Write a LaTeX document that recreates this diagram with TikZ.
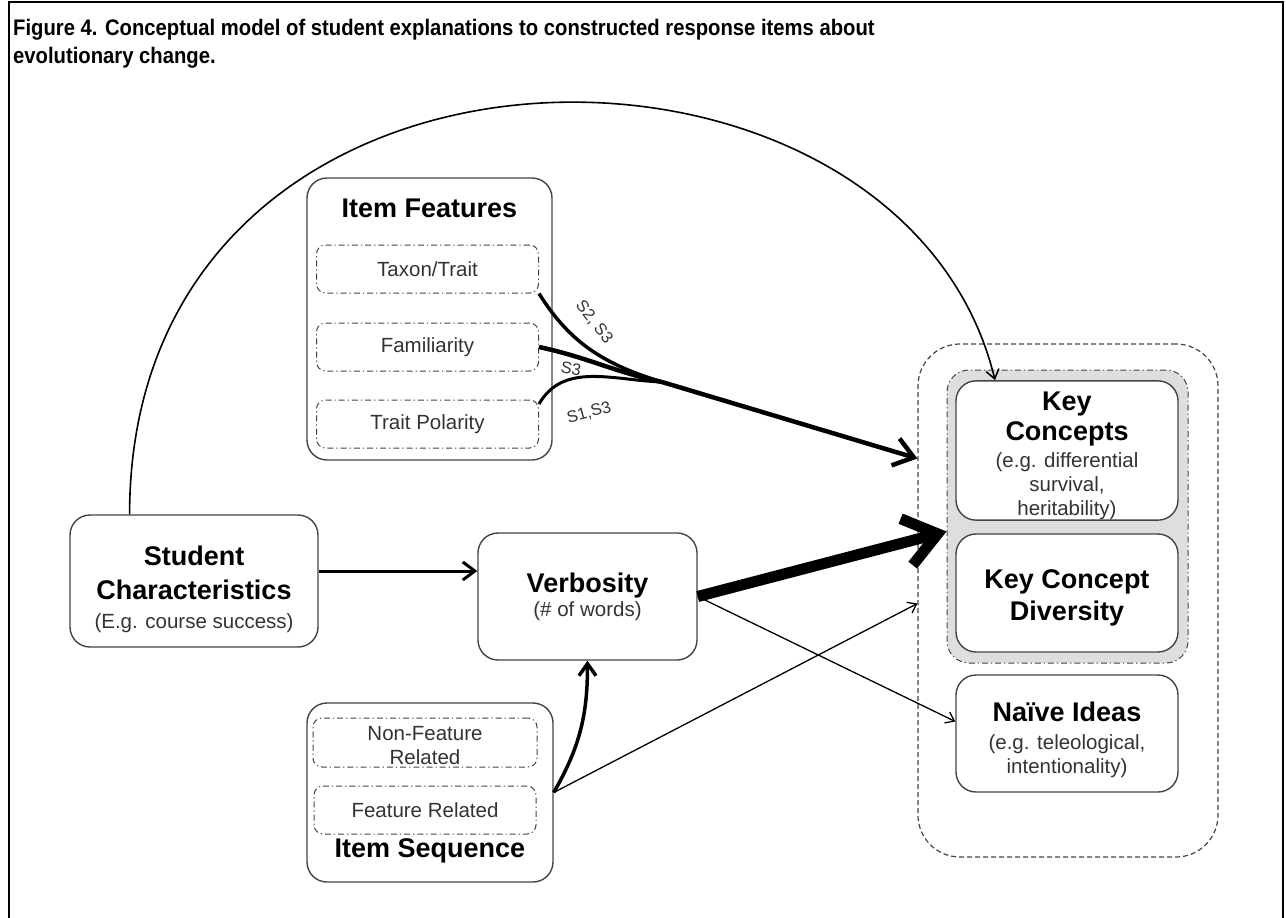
\documentclass[tikz,border=0pt]{standalone}
\usepackage{fontspec}
\setmainfont{Liberation Sans}
\newfontfamily\titlefam[FakeStretch=0.9]{Liberation Sans}
\usetikzlibrary{arrows.meta,positioning}
\newcommand\titlefont{\titlefam\fontsize{22.5}{28}\selectfont\bfseries}
\newcommand\hdfont{\fontsize{27}{30}\selectfont\bfseries}
\newcommand\txfont{\fontsize{20.5}{24}\selectfont}
\newcommand\lblfont{\fontsize{16.5}{18}\selectfont}
\newcommand\subline[1]{{\txfont\mdseries\color{txtgray}#1}}
\newcommand\toppad[1]{\rule{0pt}{#1}}
\definecolor{boxline}{HTML}{444444}
\definecolor{txtgray}{HTML}{333333}
\definecolor{grpfill}{HTML}{DEDEDE}
\tikzset{
  box/.style={draw=boxline, line width=1.4pt, rounded corners=20pt, fill=white,
    align=center, inner sep=0pt, font=\hdfont},
  subbox/.style={draw=boxline, line width=1pt,
    dash pattern=on 6pt off 3pt on 1.2pt off 3pt, rounded corners=9pt,
    minimum width=222pt, minimum height=48pt, inner sep=0pt,
    align=center, text=txtgray, font=\txfont},
  outerbox/.style={draw=boxline, line width=1.2pt, dash pattern=on 5pt off 3pt,
    rounded corners=42pt},
  groupbox/.style={draw=boxline, fill=grpfill, line width=1pt,
    dash pattern=on 6pt off 3pt on 1.2pt off 3pt, rounded corners=22pt},
  arcline/.style={line width=1.6pt, -{Straight Barb[length=9pt,width=13pt]}},
  midarrow/.style={line width=3pt, -{Straight Barb[length=12pt,width=18pt]}},
  heavyarrow/.style={line width=11pt, -{Straight Barb[length=32pt,width=48pt]}},
  featarrow/.style={line width=4.5pt, -{Straight Barb[length=19pt,width=28pt]}},
  thinarrow/.style={line width=1.3pt, -{Straight Barb[length=8pt,width=12pt]}},
  lbl/.style={font=\lblfont, text=txtgray, inner sep=0pt}
}

\begin{document}
\begin{tikzpicture}[x=1pt, y=1pt]
  \useasboundingbox (0,0) rectangle (1286,-918);
  \draw[line width=2.5pt] (9,-918) -- (9,-2) -- (1283,-2) -- (1283,-918);
  \node[anchor=north west, inner sep=0pt, align=left, font=\titlefont] (title) at (13,-19)
    {Figure 4. Conceptual model of student explanations to constructed response items about\\evolutionary change.};

  % outcomes
  \node[outerbox, minimum width=300pt, minimum height=513pt] (res) at (1068,-600.5) {};
  \node[groupbox, minimum width=241pt, minimum height=293pt] (grp) at (1067.5,-516.5) {};
  \node[box, minimum width=222pt, minimum height=135pt] (kc) at (1067,-450.5)
    {\toppad{30pt}Key\\Concepts\\[-3pt]\subline{(e.g. differential}\\[-6pt]\subline{survival,}\\[-6pt]\subline{heritability)}};
  \node[box, minimum width=222pt, minimum height=118pt] (kcd) at (1067,-593)
    {\toppad{28pt}Key Concept\\[2pt]Diversity};
  \node[box, minimum width=222pt, minimum height=117pt] (naive) at (1067,-733.5)
    {\toppad{32pt}Naïve Ideas\\[-2pt]\subline{(e.g. teleological,}\\[-6pt]\subline{intentionality)}};

  % predictors
  \node[box, minimum width=248pt, minimum height=132pt] (stud) at (194,-581)
    {\toppad{37pt}Student\\[4pt]Characteristics\\[-1pt]\subline{(E.g. course success)}};
  \node[box, minimum width=219pt, minimum height=127pt] (verb) at (587.5,-596.5)
    {Verbosity\\[-6pt]\subline{(\# of words)}};

  \node[box, minimum width=245pt, minimum height=282pt] (feat) at (429.5,-319) {};
  \node[font=\hdfont] (featT) at (429.5,-208) {Item Features};
  \node[subbox] (taxon) at (427.5,-269) {Taxon/Trait};
  \node[subbox, below=29pt of taxon] (fam) {Familiarity};
  \node[subbox, below=28pt of fam] (trait) {Trait Polarity};

  \node[box, minimum width=246pt, minimum height=179pt] (seq) at (430,-792.5) {};
  \node[subbox, minimum width=224pt, minimum height=49pt] (nonfeat) at (425,-742.5)
    {\toppad{20pt}Non-Feature\\Related};
  \node[subbox, below=18pt of nonfeat] (featrel) {Feature Related};
  \node[font=\hdfont] (seqT) at (430,-851) {Item Sequence};

  % labels of the feature links
  \node[lbl, rotate=-52] (lblA) at (594,-322) {S2, S3};
  \node[lbl, rotate=-10] (lblB) at (571,-369) {S3};
  \node[lbl, rotate=15] (lblC) at (589,-413) {S1,S3};

  % connectors
  \coordinate (mrg) at (662,-382);
  \draw[arcline] (stud.134) .. controls (130,10) and (900,10) .. ([xshift=-72pt]kc.north);
  \draw[midarrow] ([yshift=10pt]stud.east) -- ([yshift=10pt]stud.east -| verb.west);
  \draw[line width=3.5pt] (taxon.south east) to[out=-58, in=163] (mrg);
  \draw[line width=4.5pt] (fam.east) to[out=-12, in=168] (mrg);
  \draw[line width=3pt] ([yshift=20pt]trait.east) to[out=60, in=178] (mrg);
  \draw[featarrow] (mrg) -- ([yshift=142pt]res.west);
  \draw[heavyarrow] (verb.east) -- ([yshift=-15pt]grp.west);
  \draw[thinarrow] (verb.east) -- ([yshift=12pt]naive.west);
  \draw[line width=3.5pt, -{Straight Barb[length=12pt,width=17pt]}] (seq.east)
    to[out=60, in=-90] (verb.south);
  \draw[thinarrow] (seq.east) -- ([yshift=-3pt]res.west);
\end{tikzpicture}
\end{document}
